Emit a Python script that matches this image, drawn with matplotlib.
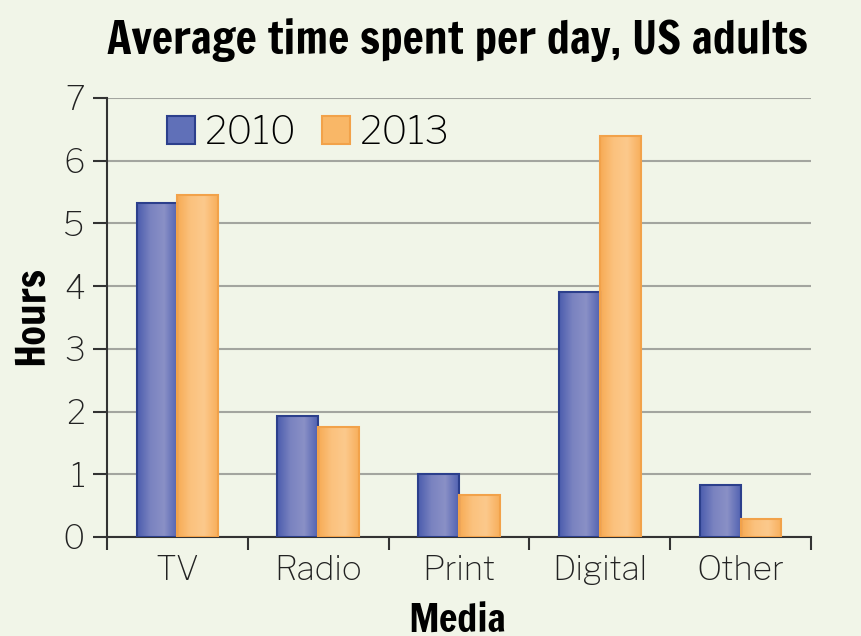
import numpy as np
import matplotlib.pyplot as plt
from matplotlib import font_manager
from matplotlib.colors import LinearSegmentedColormap

# data
media = ['TV', 'Radio', 'Print', 'Digital', 'Other']
hours_2010 = [5.33, 1.93, 1.01, 3.90, 0.83]
hours_2013 = [5.45, 1.75, 0.67, 6.40, 0.29]


def pick(options):
    names = {f.name for f in font_manager.fontManager.ttflist}
    for o in options:
        if o in names:
            return o
    return 'DejaVu Sans'


narrow = pick(['Francois One', 'Archivo Narrow', 'Roboto Condensed', 'PT Sans Narrow',
               'Barlow Condensed', 'Liberation Sans Narrow'])
plain = pick(['Libre Franklin', 'Liberation Sans'])

bg = '#f1f5e8'
fig = plt.figure(figsize=(8.61, 6.36), dpi=100, facecolor=bg)
ax = fig.add_axes([0.1243, 0.1557, 0.8177, 0.6903], facecolor=bg)

x = np.arange(len(media))
w = 0.29
b1 = ax.bar(x - w / 2, hours_2010, w, color='#6070b8', edgecolor='#2c3f8c', linewidth=1.5,
            label='2010', zorder=3)
b2 = ax.bar(x + w / 2, hours_2013, w, color='#f9b767', edgecolor='#f2a24a', linewidth=1.5,
            label='2013', zorder=3)

# soft horizontal shading inside the bars, like the original
blue_cm = LinearSegmentedColormap.from_list('b', ['#4c5dae', '#7a83c0', '#8a90c6', '#5263b2'])
orange_cm = LinearSegmentedColormap.from_list('o', ['#f7ab55', '#fbc27e', '#fcc98c', '#f8af5c'])
grad = np.linspace(0, 1, 64).reshape(1, -1)
for bars, cm in [(b1, blue_cm), (b2, orange_cm)]:
    for r in bars:
        im = ax.imshow(grad, cmap=cm, aspect='auto', zorder=3.5,
                       extent=[r.get_x(), r.get_x() + r.get_width(), 0, r.get_height()])
        im.set_clip_path(r)
    for r in bars:
        r.set_zorder(4)
        r.set_facecolor('none')

ax.set_xlim(-0.5, 4.5)
ax.set_ylim(0, 7)
ax.set_yticks(range(8))
ax.yaxis.grid(True, color='#a3a59f', linewidth=1.5, zorder=0)
ax.set_axisbelow(True)

# category ticks sit between the groups
ax.set_xticks(np.arange(-0.5, 5, 1))
ax.set_xticklabels([])
ax.set_xticks(x, minor=True)
ax.set_xticklabels(media, minor=True)
ax.tick_params(axis='x', which='minor', length=0, pad=13, labelsize=24)
ax.tick_params(axis='x', which='major', length=9, width=1.5, color='#333333')
ax.tick_params(axis='y', length=10, width=1.5, color='#333333', labelsize=24, pad=6)
for lab in ax.get_xticklabels(minor=True) + ax.get_yticklabels():
    lab.set_fontfamily(plain)
    lab.set_fontweight('medium')
    lab.set_color('#222222')

for s in ['top', 'right']:
    ax.spines[s].set_visible(False)
for s in ['left', 'bottom']:
    ax.spines[s].set_linewidth(1.5)
    ax.spines[s].set_color('#333333')

ax.set_ylabel('Hours', fontfamily=narrow, fontweight='bold', fontsize=29)
ax.set_xlabel('Media', fontfamily=narrow, fontweight='bold', fontsize=28)
ax.yaxis.set_label_coords(-0.083, 0.505)
ax.xaxis.set_label_coords(0.498, -0.219)
ax.xaxis.label.set_va('baseline')

title = fig.text(0.531, 0.937, 'Average time spent per day, US adults', fontfamily=narrow,
                 fontweight='bold', fontsize=30, ha='center', va='center')
# fit title to the width it has in the original (~700 px)
fig.canvas.draw()
tw = title.get_window_extent().width
title.set_fontsize(30 * 700 / tw)

ax.set_ylim(0, 7)
ax.set_xlim(-0.5, 4.5)
ax.legend(loc='upper left', bbox_to_anchor=(0.085, 0.962), ncol=2, frameon=False,
          prop={'family': plain, 'size': 28, 'weight': 'medium'}, handlelength=0.72,
          handleheight=0.72, columnspacing=0.64, handletextpad=0.26,
          borderpad=0, borderaxespad=0)
leg = ax.get_legend()
leg.legend_handles[0].set_facecolor('#6070b8')
leg.legend_handles[1].set_facecolor('#f9b767')

fig.savefig('out.png', dpi=100, facecolor=bg)
